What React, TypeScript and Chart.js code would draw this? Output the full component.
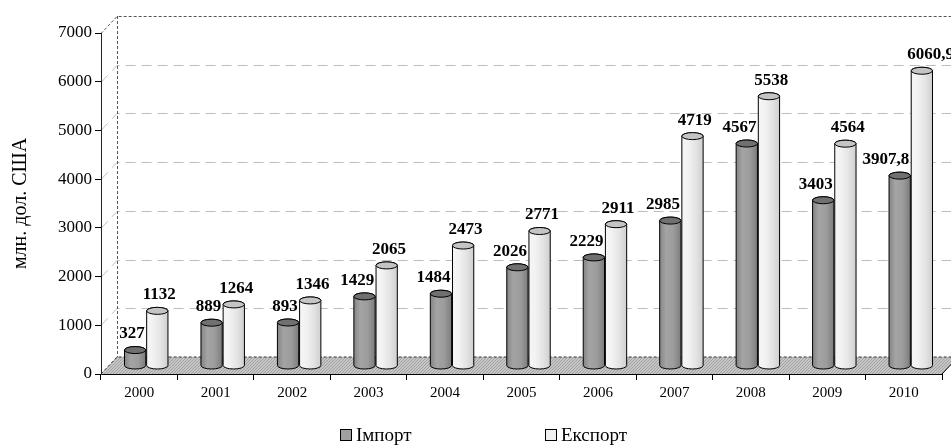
import React, { useEffect, useRef } from 'react';
import { Chart, registerables } from 'chart.js';

Chart.register(...registerables);

// ---- data ----
const years = ['2000', '2001', '2002', '2003', '2004', '2005', '2006', '2007', '2008', '2009', '2010'];
const importValues = [327, 889, 893, 1429, 1484, 2026, 2229, 2985, 4567, 3403, 3907.8];
const exportValues = [1132, 1264, 1346, 2065, 2473, 2771, 2911, 4719, 5538, 4564, 6060.9];
const seriesNames = ['Імпорт', 'Експорт'];
const yAxisTitle = 'млн. дол. США';
const yMin = 0;
const yMax = 7000;
const yStep = 1000;

// ---- styling ----
const SERIF = '"Liberation Serif", "Times New Roman", serif';
const BAR_DX = 7;
const BAR_DY = -8;
const WALL_DX = 16;
const WALL_DY = -17;

const palettes = [
  {
    stops: ['#858585', '#a4a4a4', '#9c9c9c', '#7c7c7c'],
    cap: '#707070',
    legend: '#a0a0a0',
  },
  {
    stops: ['#f6f6f6', '#f2f2f2', '#e4e4e4', '#cfcfcf'],
    cap: '#c4c4c4',
    legend: '#f0f0f0',
  },
];

const fmt = (v: number) => String(v).replace('.', ',');

function makeFloorPattern(ctx: CanvasRenderingContext2D) {
  const c = document.createElement('canvas');
  c.width = 3;
  c.height = 3;
  const p = c.getContext('2d')!;
  p.fillStyle = '#c6c6c6';
  p.fillRect(0, 0, 3, 3);
  p.fillStyle = '#a2a2a2';
  p.fillRect(0, 0, 1, 1);
  p.fillRect(2, 1, 1, 1);
  p.fillRect(1, 2, 1, 1);
  return ctx.createPattern(c, 'repeat');
}

function drawCylinder(
  ctx: CanvasRenderingContext2D,
  x: number,
  top: number,
  bottom: number,
  w: number,
  pal: { stops: string[]; cap: string }
) {
  const rx = w / 2;
  const ry = 3.5;
  const l = x - rx;
  const r = x + rx;
  const g = ctx.createLinearGradient(l, 0, r, 0);
  g.addColorStop(0, pal.stops[0]);
  g.addColorStop(0.3, pal.stops[1]);
  g.addColorStop(0.65, pal.stops[2]);
  g.addColorStop(1, pal.stops[3]);
  ctx.beginPath();
  ctx.moveTo(l, top);
  ctx.lineTo(l, bottom);
  ctx.ellipse(x, bottom, rx, ry, 0, Math.PI, 0, true);
  ctx.lineTo(r, top);
  ctx.ellipse(x, top, rx, ry, 0, 0, Math.PI, true);
  ctx.closePath();
  ctx.fillStyle = g;
  ctx.fill();
  ctx.lineWidth = 1;
  ctx.strokeStyle = '#000';
  ctx.stroke();
  ctx.beginPath();
  ctx.ellipse(x, top, rx, ry, 0, 0, Math.PI * 2);
  ctx.fillStyle = pal.cap;
  ctx.fill();
  ctx.stroke();
}

const wallPlugin = {
  id: 'wall3d',
  beforeDraw(chart: any) {
    const { ctx, chartArea: a, scales } = chart;
    const y = scales.y;
    ctx.save();
    // floor
    ctx.beginPath();
    ctx.moveTo(a.left, a.bottom);
    ctx.lineTo(a.left + WALL_DX, a.bottom + WALL_DY);
    ctx.lineTo(a.right + WALL_DX, a.bottom + WALL_DY);
    ctx.lineTo(a.right, a.bottom);
    ctx.closePath();
    ctx.fillStyle = makeFloorPattern(ctx) || '#b8b8b8';
    ctx.fill();
    ctx.lineWidth = 1;
    ctx.strokeStyle = '#000';
    ctx.setLineDash([]);
    ctx.beginPath();
    ctx.moveTo(a.right, a.bottom);
    ctx.lineTo(a.right + WALL_DX, a.bottom + WALL_DY);
    ctx.stroke();
    ctx.setLineDash([3, 2]);
    ctx.strokeStyle = '#333';
    ctx.beginPath();
    ctx.moveTo(a.left, a.bottom);
    ctx.lineTo(a.left + WALL_DX, a.bottom + WALL_DY);
    ctx.lineTo(a.right + WALL_DX, a.bottom + WALL_DY);
    ctx.stroke();

    // back wall gridlines
    y.ticks.forEach((t: any) => {
      if (t.value === yMin) return;
      const py = Math.round(y.getPixelForValue(t.value)) + 0.5;
      const isTop = t.value === yMax;
      ctx.strokeStyle = isTop ? '#555' : '#bdbdbd';
      ctx.setLineDash(isTop ? [3, 2] : [10, 6]);
      ctx.beginPath();
      ctx.moveTo(a.left, py);
      ctx.lineTo(a.left + WALL_DX, py + WALL_DY);
      ctx.lineTo(a.right + WALL_DX, py + WALL_DY);
      ctx.stroke();
    });
    // back-left vertical edge
    const x0 = Math.round(a.left + WALL_DX) + 0.5;
    ctx.strokeStyle = '#555';
    ctx.setLineDash([3, 2]);
    ctx.beginPath();
    ctx.moveTo(x0, a.top + WALL_DY);
    ctx.lineTo(x0, a.bottom + WALL_DY);
    ctx.stroke();
    ctx.restore();
  },
  afterDatasetsDraw(chart: any) {
    const { ctx } = chart;
    ctx.save();
    ctx.setLineDash([]);
    const metas = chart.data.datasets.map((_: any, i: number) => chart.getDatasetMeta(i));
    metas.forEach((meta: any, di: number) => {
      meta.data.forEach((el: any) => {
        const p = el.getProps(['x', 'y', 'base', 'width'], true);
        drawCylinder(ctx, p.x + BAR_DX, p.y + BAR_DY, p.base + BAR_DY, p.width, palettes[di]);
      });
    });
    // value labels
    ctx.font = `bold 17px ${SERIF}`;
    ctx.fillStyle = '#000';
    ctx.textBaseline = 'middle';
    metas.forEach((meta: any, di: number) => {
      const values = chart.data.datasets[di].data as number[];
      meta.data.forEach((el: any, i: number) => {
        const p = el.getProps(['x', 'y', 'base', 'width'], true);
        const cx = p.x + BAR_DX;
        const ty = p.y + BAR_DY - 16;
        if (di === 0) {
          ctx.textAlign = 'right';
          ctx.fillText(fmt(values[i]), cx + p.width / 2 - 1, ty);
        } else {
          ctx.textAlign = 'left';
          ctx.fillText(fmt(values[i]), cx - p.width / 2 - 4, ty);
        }
      });
    });
    ctx.restore();
  },
  afterDraw(chart: any) {
    const { ctx } = chart;
    ctx.save();
    ctx.font = `19px ${SERIF}`;
    ctx.textBaseline = 'middle';
    ctx.textAlign = 'left';
    const starts = [340, 545];
    seriesNames.forEach((name, i) => {
      const bx = starts[i];
      ctx.fillStyle = palettes[i].legend;
      ctx.fillRect(bx, 429, 12, 12);
      ctx.strokeStyle = '#000';
      ctx.lineWidth = 1;
      ctx.strokeRect(bx + 0.5, 429.5, 11, 11);
      ctx.fillStyle = '#000';
      ctx.fillText(name, bx + 16, 436);
    });
    ctx.restore();
  },
};

export default function App() {
  const ref = useRef<HTMLCanvasElement | null>(null);

  useEffect(() => {
    document.body.style.margin = '0';
    if (!ref.current) return;
    const chart = new Chart(ref.current, {
      type: 'bar',
      data: {
        labels: years,
        datasets: [
          {
            label: seriesNames[0],
            data: importValues,
            backgroundColor: 'rgba(0,0,0,0)',
            borderWidth: 0,
            categoryPercentage: 0.58,
            barPercentage: 0.96,
          },
          {
            label: seriesNames[1],
            data: exportValues,
            backgroundColor: 'rgba(0,0,0,0)',
            borderWidth: 0,
            categoryPercentage: 0.58,
            barPercentage: 0.96,
          },
        ],
      },
      options: {
        responsive: false,
        animation: false,
        devicePixelRatio: 1,
        layout: { padding: { top: 33, right: 9, bottom: 44, left: 0 } },
        plugins: {
          legend: { display: false },
          tooltip: { enabled: false },
        },
        scales: {
          x: {
            afterFit: (s: any) => {
              s.height = 30;
            },
            grid: {
              offset: true,
              drawOnChartArea: false,
              drawTicks: true,
              tickLength: 6,
              color: '#000',
            },
            border: { display: true, color: '#000', width: 1 },
            ticks: {
              color: '#000',
              padding: 4,
              font: { family: SERIF, size: 15 },
              maxRotation: 0,
            },
          },
          y: {
            min: yMin,
            max: yMax,
            afterFit: (s: any) => {
              s.width = 101;
            },
            grid: {
              drawOnChartArea: false,
              drawTicks: true,
              tickLength: 6,
              color: '#000',
            },
            border: { display: true, color: '#222', width: 1 },
            ticks: {
              stepSize: yStep,
              color: '#000',
              padding: 3,
              font: { family: SERIF, size: 17 },
              callback: (v: any) => String(v),
            },
            title: {
              display: true,
              text: yAxisTitle,
              color: '#000',
              font: { family: SERIF, size: 20 },
              padding: { top: 9, bottom: 0 },
            },
          },
        },
      },
      plugins: [wallPlugin],
    });
    return () => chart.destroy();
  }, []);

  return (
    <div style={{ width: 951, height: 448 }}>
      <canvas ref={ref} width={951} height={448} style={{ display: 'block', width: 951, height: 448 }} />
    </div>
  );
}
